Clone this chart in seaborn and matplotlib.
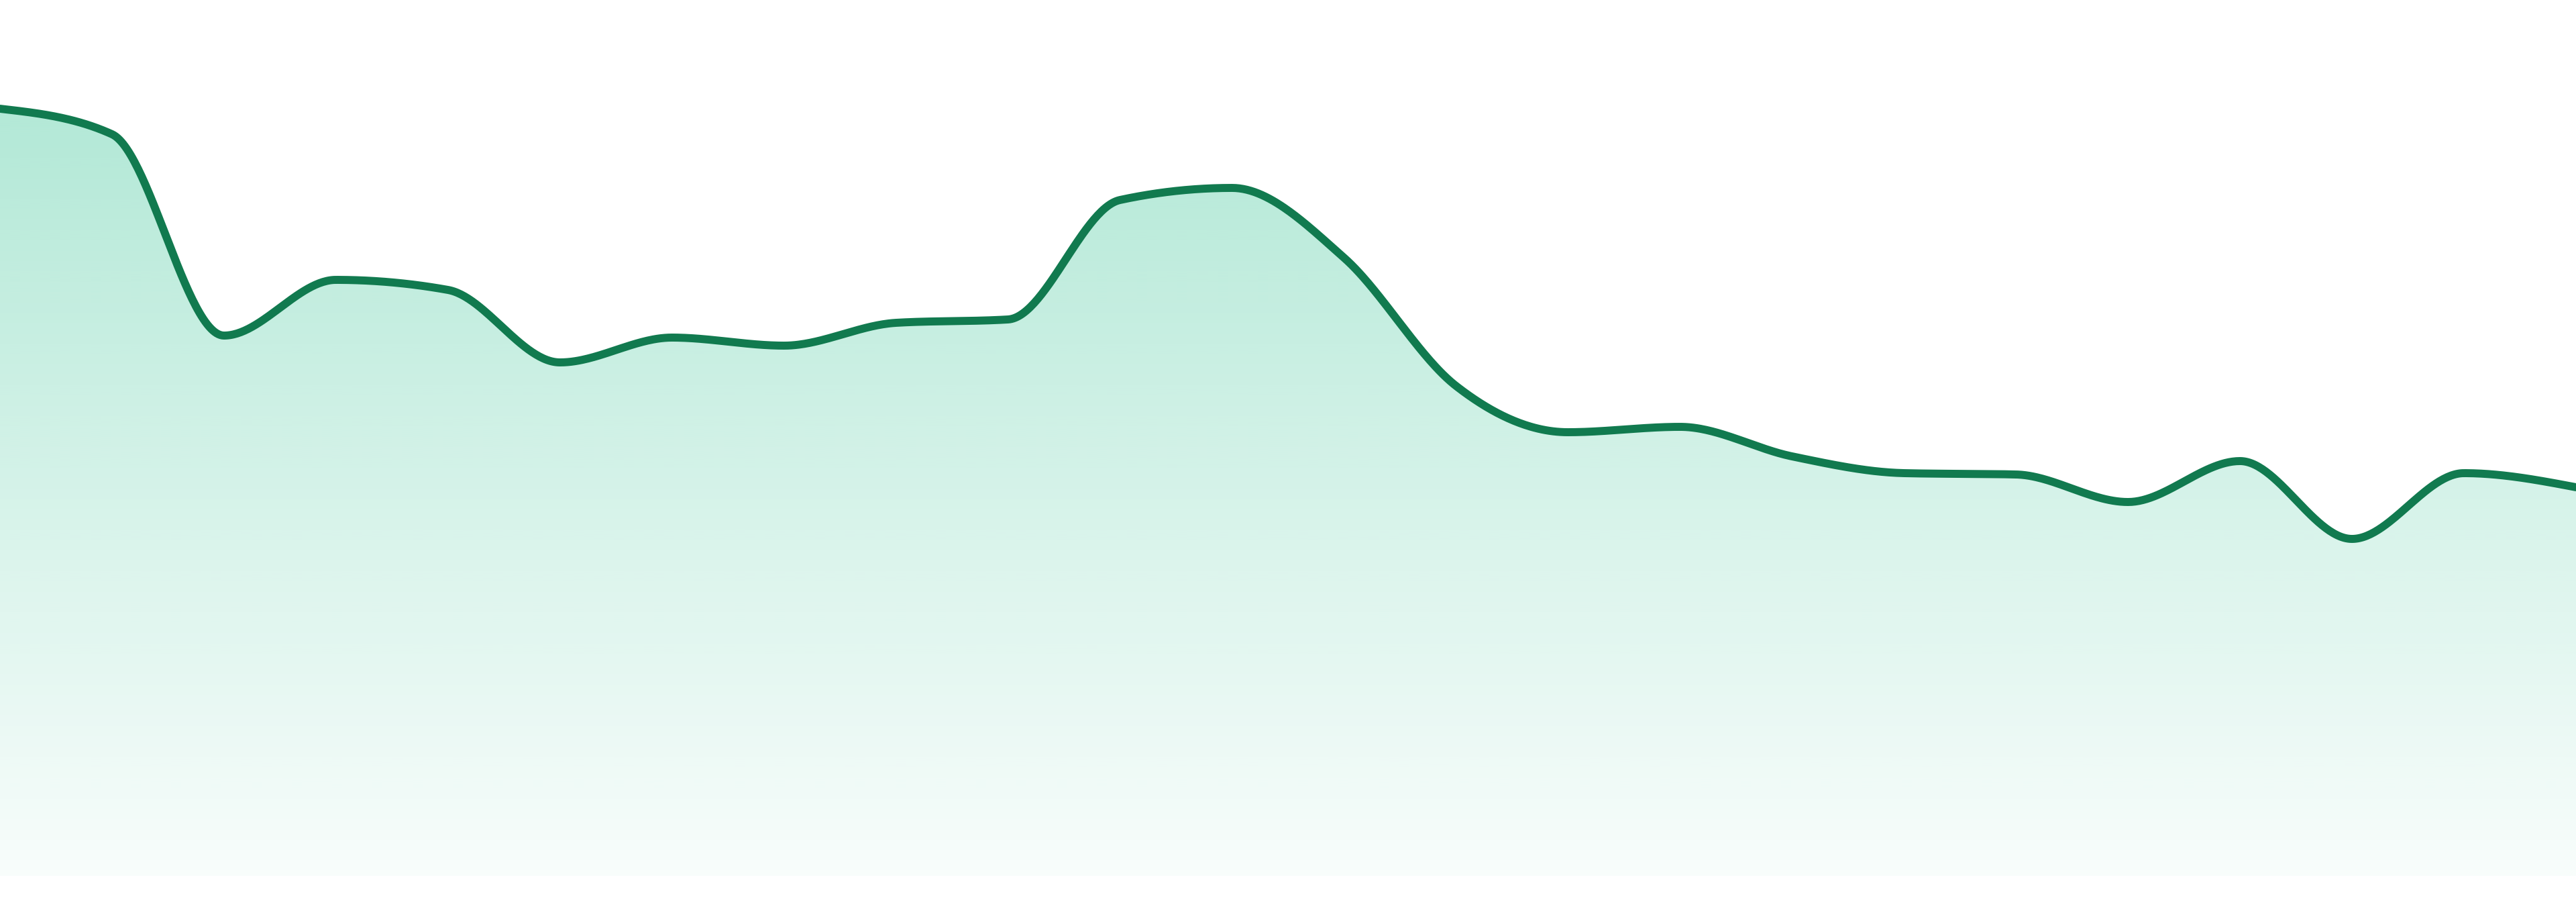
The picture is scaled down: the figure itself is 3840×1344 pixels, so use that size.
import numpy as np
import pandas as pd
import matplotlib
matplotlib.use('Agg')
import matplotlib.pyplot as plt
import seaborn as sns
from matplotlib.colors import to_rgb

# Valores de la serie (24 puntos equiespaciados)
steps = list(range(24))
values = [114.3, 110.5, 80.5, 88.8, 87.3, 76.5, 80.2, 79.0, 82.4, 82.9,
          100.7, 102.5, 92.1, 73.0, 66.1, 66.9, 62.5, 60.0, 59.8, 55.7,
          61.8, 50.2, 60.0, 57.9]

LINE_COLOR = '#117a4f'
FILL_COLOR = '#10b981'


def monotone_curve(x, y, n=60):
    """Interpolacion cubica monotona (como curveMonotoneX de d3)."""
    x = np.asarray(x, float)
    y = np.asarray(y, float)
    h = np.diff(x)
    s = np.diff(y) / h
    t = np.zeros_like(y)
    for i in range(1, len(y) - 1):
        s0, s1 = s[i - 1], s[i]
        p = (s0 * h[i] + s1 * h[i - 1]) / (h[i - 1] + h[i])
        t[i] = (np.sign(s0) + np.sign(s1)) * min(abs(s0), abs(s1), 0.5 * abs(p))
    t[0] = (3 * s[0] - t[1]) / 2
    t[-1] = (3 * s[-1] - t[-2]) / 2

    xs, ys = [], []
    for i in range(len(x) - 1):
        u = np.linspace(0, 1, n, endpoint=False)
        h00 = 2 * u**3 - 3 * u**2 + 1
        h10 = u**3 - 2 * u**2 + u
        h01 = -2 * u**3 + 3 * u**2
        h11 = u**3 - u**2
        xs.append(x[i] + u * h[i])
        ys.append(h00 * y[i] + h10 * h[i] * t[i] + h01 * y[i + 1] + h11 * h[i] * t[i + 1])
    xs.append([x[-1]])
    ys.append([y[-1]])
    return np.concatenate(xs), np.concatenate(ys)


def main():
    sns.set_theme(style='white')

    cx, cy = monotone_curve(steps, values)
    curve = pd.DataFrame({'step': cx, 'value': cy})

    fig = plt.figure(figsize=(38.4, 13.44), dpi=100)
    ax = fig.add_axes([0, 0, 1, 1])

    # Relleno con degradado vertical recortado por el area
    poly = ax.fill_between(curve['step'], curve['value'], 0, facecolor='none', edgecolor='none')
    top = max(values)
    rgb = to_rgb(FILL_COLOR)
    alphas = np.linspace(0.32, 0.03, 256)
    grad = np.zeros((256, 1, 4))
    grad[:, 0, :3] = rgb
    grad[:, 0, 3] = alphas
    img = ax.imshow(grad, extent=[0, 23, 0, top], aspect='auto', origin='upper',
                    interpolation='bilinear', zorder=1)
    img.set_clip_path(poly.get_paths()[0], transform=ax.transData)

    sns.lineplot(data=curve, x='step', y='value', ax=ax, color=LINE_COLOR,
                 linewidth=8.6, zorder=3, sort=False)

    ax.set_xlim(0, 23)
    ax.set_ylim(-3.9, 130.5)
    ax.axis('off')

    fig.savefig('out.png', dpi=100, facecolor='white')
    plt.close(fig)


if __name__ == '__main__':
    main()
